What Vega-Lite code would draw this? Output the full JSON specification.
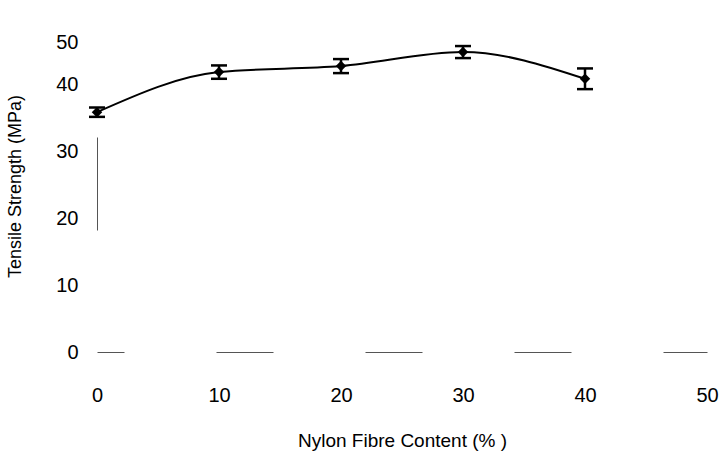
{
  "$schema": "https://vega.github.io/schema/vega-lite/v6.json",
  "width": 610,
  "height": 334,
  "autosize": {"type": "none"},
  "padding": {"left": 97, "top": 18, "right": 14, "bottom": 112},
  "background": "white",
  "config": {
    "view": {"stroke": null},
    "font": "Liberation Sans, Arial, sans-serif",
    "axis": {
      "grid": false,
      "ticks": false,
      "labelFont": "Liberation Sans, Arial, sans-serif",
      "labelFontSize": 20,
      "labelColor": "#000",
      "titleFont": "Liberation Sans, Arial, sans-serif",
      "titleFontWeight": "normal",
      "titleColor": "#000",
      "domainColor": "#555",
      "domainWidth": 1
    }
  },
  "data": {
    "values": [
      {"fibre": 0, "strength": 35.9, "lo": 35.2, "hi": 36.6},
      {"fibre": 10, "strength": 41.9, "lo": 40.9, "hi": 42.9},
      {"fibre": 20, "strength": 42.8, "lo": 41.75, "hi": 43.85},
      {"fibre": 30, "strength": 44.9, "lo": 44.0, "hi": 45.8},
      {"fibre": 40, "strength": 40.9, "lo": 39.35, "hi": 42.45}
    ]
  },
  "encoding": {
    "x": {
      "field": "fibre",
      "type": "quantitative",
      "scale": {"domain": [0, 50], "nice": false},
      "axis": {
        "title": "Nylon Fibre Content (% )",
        "titleFontSize": 19,
        "values": [0, 10, 20, 30, 40, 50],
        "labelPadding": 33,
        "titlePadding": 26,
        "labelFlush": false,
        "domainDash": [57, 92],
        "domainDashOffset": 30
      }
    }
  },
  "layer": [
    {
      "mark": {"type": "line", "interpolate": "monotone", "color": "#000", "strokeWidth": 2},
      "encoding": {
        "y": {
          "field": "strength",
          "type": "quantitative",
          "scale": {"domain": [0, 50], "nice": false},
          "axis": {
            "title": "Tensile Strength (MPa)",
            "titleFontSize": 18,
            "values": [0, 10, 20, 30, 40, 50],
            "labelPadding": 19,
            "labelFlush": false,
            "labelOffset": {"condition": {"test": "datum.value === 50", "value": 24}, "value": 0},
            "titleX": -73,
            "titleY": 168,
            "domainDash": [93, 241],
            "domainDashOffset": 212
          }
        }
      }
    },
    {
      "mark": {"type": "rule", "color": "#000", "strokeWidth": 2.5, "opacity": 1},
      "encoding": {
        "y": {"field": "lo", "type": "quantitative"},
        "y2": {"field": "hi"}
      }
    },
    {
      "mark": {"type": "tick", "orient": "horizontal", "color": "#000", "size": 16, "thickness": 2.5, "opacity": 1},
      "encoding": {"y": {"field": "lo", "type": "quantitative"}}
    },
    {
      "mark": {"type": "tick", "orient": "horizontal", "color": "#000", "size": 16, "thickness": 2.5, "opacity": 1},
      "encoding": {"y": {"field": "hi", "type": "quantitative"}}
    },
    {
      "mark": {"type": "point", "shape": "diamond", "filled": true, "color": "#000", "size": 110, "opacity": 1},
      "encoding": {"y": {"field": "strength", "type": "quantitative"}}
    }
  ]
}
